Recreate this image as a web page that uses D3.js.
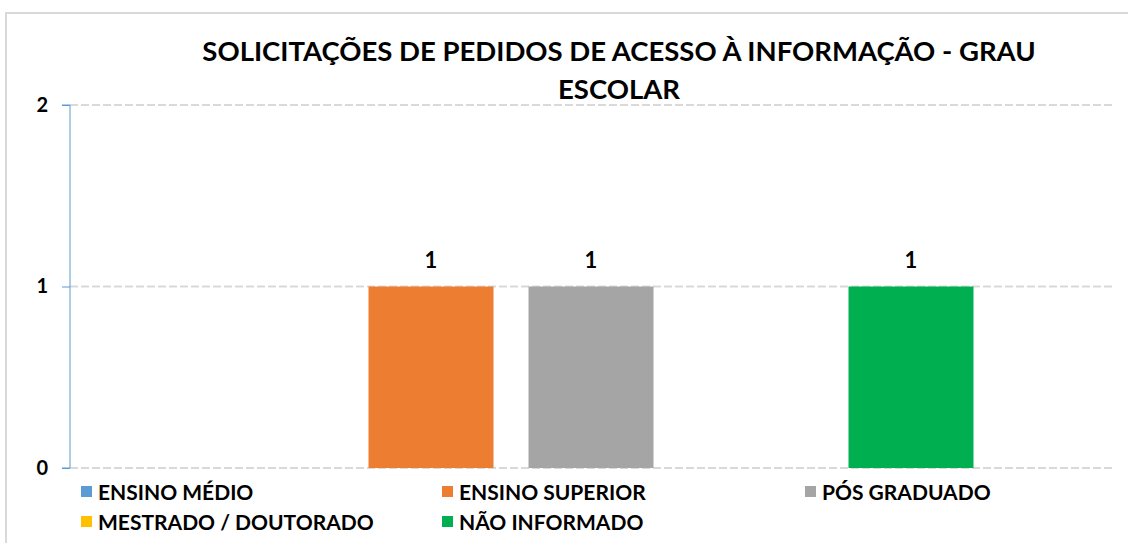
<!DOCTYPE html>
<html lang="pt">
<head>
<meta charset="UTF-8">
<title>Grau escolar</title>
<script src="https://d3js.org/d3.v7.min.js"></script>
<style>
  body { margin: 0; background: #fff; }
  text { font-family: Lato, "Open Sans", sans-serif; font-weight: bold; fill: #000; }
</style>
</head>
<body>
<div id="container"></div>
<script>
  // dados
  var series = ["ENSINO MÉDIO", "ENSINO SUPERIOR", "PÓS GRADUADO", "MESTRADO / DOUTORADO", "NÃO INFORMADO"];
  var values = [0, 1, 1, 0, 1];
  var colors = ["#5B9BD5", "#ED7D31", "#A5A5A5", "#FFC000", "#00B050"];
  var yTicks = [0, 1, 2];
  var titleLines = ["SOLICITAÇÕES DE PEDIDOS DE ACESSO À INFORMAÇÃO - GRAU", "ESCOLAR"];

  var width = 1128, height = 543;
  var plot = { left: 70, right: 1112, top: 105, bottom: 468 };

  var svg = d3.select("#container").append("svg")
    .attr("width", width)
    .attr("height", height);

  // moldura
  svg.append("rect")
    .attr("x", 6).attr("y", 13)
    .attr("width", width + 10).attr("height", height + 10)
    .attr("fill", "#fff")
    .attr("stroke", "#d9d9d9")
    .attr("stroke-width", 2);

  // titulo
  var title = svg.append("g");
  titleLines.forEach(function (t, i) {
    title.append("text")
      .attr("x", 619)
      .attr("y", 61 + i * 38)
      .attr("text-anchor", "middle")
      .style("font-size", "27.5px")
      .text(t);
  });

  var y = d3.scaleLinear().domain([0, 2]).range([plot.bottom, plot.top]);

  // escala das barras: passo 160, barra 125
  var x = d3.scaleBand()
    .domain(series)
    .range([plot.left, plot.right])
    .paddingInner(35 / 160)
    .paddingOuter(((plot.right - plot.left) / 160 - (series.length - 35 / 160)) / 2);

  // grade
  svg.append("g").selectAll("line")
    .data(yTicks)
    .enter().append("line")
    .attr("x1", plot.left).attr("x2", plot.right)
    .attr("y1", d => y(d)).attr("y2", d => y(d))
    .attr("stroke", "#d9d9d9")
    .attr("stroke-width", 2)
    .attr("stroke-dasharray", "8,3");

  // eixo y
  var yAxis = svg.append("g")
    .attr("transform", "translate(" + plot.left + ",0)")
    .call(d3.axisLeft(y).tickValues(yTicks).tickFormat(d3.format("d")).tickSize(8).tickPadding(14));
  yAxis.select(".domain").attr("stroke", "#5B9BD5").attr("d", "M-8," + y(2) + "H0V" + y(0) + "H-8");
  yAxis.selectAll(".tick line").attr("stroke", "#5B9BD5");
  yAxis.selectAll("text")
    .style("font-size", "20px")
    .style("font-family", "Lato, sans-serif")
    .style("font-weight", "bold")
    .attr("fill", "#000");

  // barras
  var data = series.map(function (s, i) { return { name: s, value: values[i], color: colors[i] }; });

  svg.append("g").selectAll("rect")
    .data(data.filter(d => d.value > 0))
    .enter().append("rect")
    .attr("x", d => x(d.name))
    .attr("y", d => y(d.value))
    .attr("width", x.bandwidth())
    .attr("height", d => y(0) - y(d.value))
    .attr("fill", d => d.color);

  // rotulos
  svg.append("g").selectAll("text")
    .data(data.filter(d => d.value > 0))
    .enter().append("text")
    .attr("x", d => x(d.name) + x.bandwidth() / 2)
    .attr("y", d => y(d.value) - 19)
    .attr("text-anchor", "middle")
    .style("font-size", "22px")
    .text(d => d.value);

  // legenda
  var legX = [81, 442, 805];
  var legend = svg.append("g").selectAll("g")
    .data(data)
    .enter().append("g")
    .attr("transform", (d, i) => "translate(" + legX[i % 3] + "," + (492 + Math.floor(i / 3) * 30) + ")");

  legend.append("rect")
    .attr("x", 0).attr("y", -6)
    .attr("width", 11).attr("height", 11)
    .attr("fill", d => d.color);

  legend.append("text")
    .attr("x", 17)
    .attr("y", 7.5)
    .style("font-size", "21px")
    .text(d => d.name);
</script>
</body>
</html>
